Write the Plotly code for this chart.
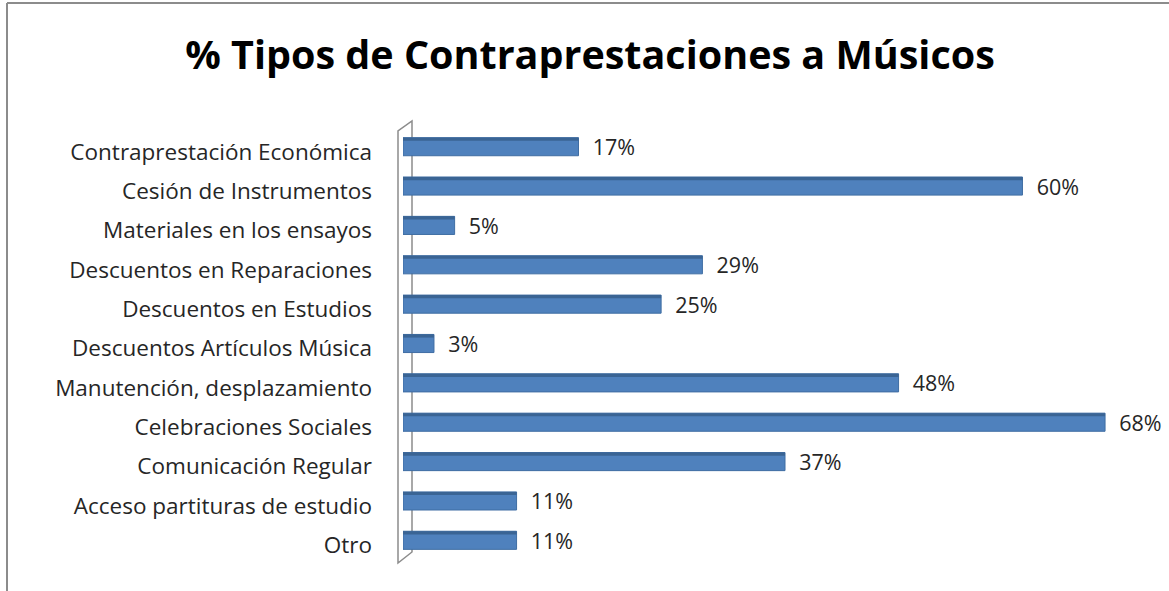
import plotly.graph_objects as go

categories = [
    "Contraprestación Económica",
    "Cesión de Instrumentos",
    "Materiales en los ensayos",
    "Descuentos en Reparaciones",
    "Descuentos en Estudios",
    "Descuentos Artículos Música",
    "Manutención, desplazamiento",
    "Celebraciones Sociales",
    "Comunicación Regular",
    "Acceso partituras de estudio",
    "Otro",
]
values = [17, 60, 5, 29, 25, 3, 48, 68, 37, 11, 11]

W, H = 1169, 591
L, R, T, B = 403, 1167, 127, 560  # plot area in px


def px(xp):
    return (xp - L) / (R - L)


def py(yp):
    return (B - yp) / (B - T)


FONT = "Open Sans"

fig = go.Figure()
fig.add_trace(
    go.Bar(
        y=categories,
        x=values,
        orientation="h",
        width=0.46,
        offset=-0.23,
        marker=dict(color="#4F81BD", line=dict(color="#3F6DA3", width=1)),
        texttemplate="  %{x}%",
        textposition="outside",
        constraintext="none",
        textfont=dict(family=FONT, size=21.5, color="#262626"),
        cliponaxis=False,
    )
)
# darker top strip for the 3D look
fig.add_trace(
    go.Bar(
        y=categories,
        x=values,
        orientation="h",
        width=0.08,
        offset=-0.23,
        marker=dict(color="#3A6494", line=dict(width=0)),
        hoverinfo="skip",
    )
)

shapes = []
gray = "#8C8C8C"
# outer frame
shapes.append(dict(type="line", xref="paper", yref="paper", x0=px(7), x1=px(7), y0=py(3), y1=py(600),
                   line=dict(color=gray, width=2)))
shapes.append(dict(type="line", xref="paper", yref="paper", x0=px(7), x1=px(1175), y0=py(3), y1=py(3),
                   line=dict(color=gray, width=2)))
# 3D wall
wall = f"M {px(398)} {py(563)} L {px(398)} {py(131)} L {px(412)} {py(121)} L {px(412)} {py(552)} Z"
shapes.append(dict(type="path", xref="paper", yref="paper", path=wall, line=dict(color=gray, width=1.5),
                   fillcolor="rgba(0,0,0,0)", layer="below"))

fig.update_layout(
    width=W,
    height=H,
    margin=dict(l=L, r=W - R, t=T, b=H - B),
    paper_bgcolor="white",
    plot_bgcolor="white",
    showlegend=False,
    barmode="overlay",
    title=dict(
        text="<b>% Tipos de Contraprestaciones a Músicos</b>",
        xref="container", x=590 / W, xanchor="center", y=1 - 55 / H, yanchor="middle",
        font=dict(family=FONT, size=39.5, color="black"),
    ),
    xaxis=dict(range=[0, 74], visible=False),
    yaxis=dict(
        autorange="reversed",
        showline=False,
        showgrid=False,
        ticks="",
        ticklabelstandoff=30,
        ticklabelshift=-5,
        tickfont=dict(family=FONT, size=22.5, color="#262626"),
    ),
    shapes=shapes,
)

fig.write_html("out.html")
